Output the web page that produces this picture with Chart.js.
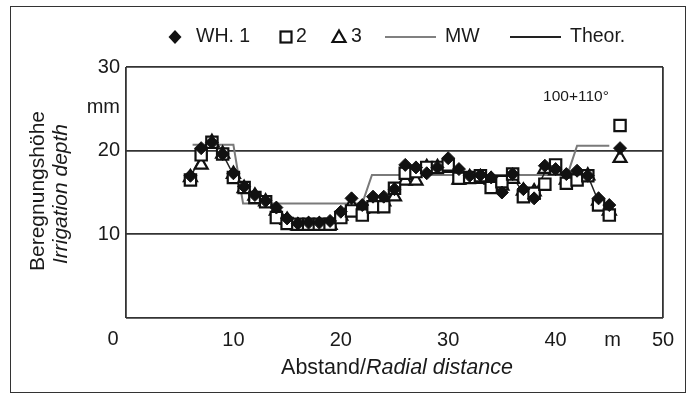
<!DOCTYPE html>
<html><head><meta charset="utf-8">
<script src="https://cdn.jsdelivr.net/npm/chart.js@4.4.0/dist/chart.umd.min.js"></script>
<style>html,body{margin:0;padding:0;background:#fff;overflow:hidden}#wrap{width:694px;height:394px;position:relative}</style>
</head><body><div id="wrap"><canvas id="c" width="694" height="394"></canvas></div>
<script>
// Distances (m); last one (46) is the separate "100+110°" measurement
const distances = [6,7,8,9,10,11,12,13,14,15,16,17,18,19,20,21,22,23,24,25,26,27,28,29,30,31,32,33,34,35,36,37,38,39,40,41,42,43,44,45,46];
const wh1 = [17.0,20.3,21.0,19.6,17.3,15.7,14.7,14.0,13.2,11.9,11.3,11.4,11.4,11.6,12.7,14.3,13.5,14.5,14.5,15.4,18.3,18.0,17.3,18.0,19.1,17.8,17.0,17.1,16.8,15.0,17.2,15.4,14.3,18.2,17.8,17.2,17.6,17.0,14.3,13.5,20.3];
const wh2 = [16.5,19.5,21.0,19.6,16.8,15.6,14.4,13.9,12.0,11.3,11.2,11.2,11.2,11.2,12.0,12.8,12.3,13.3,13.3,15.5,17.3,17.5,18.0,18.0,18.3,16.7,16.8,17.0,15.6,16.3,17.2,14.5,14.9,16.0,18.3,16.1,16.5,17.0,13.5,12.3,23.0];
const wh3 = [16.8,18.3,21.0,19.6,17.2,15.5,14.6,13.9,12.8,11.7,11.0,11.1,11.1,11.1,12.2,13.5,13.0,14.0,13.9,14.5,16.4,16.4,18.0,18.0,17.9,16.5,16.8,16.6,16.5,15.8,16.6,15.2,15.1,17.8,17.6,16.5,17.0,17.0,14.0,12.8,19.1];
// Line through the measured points (6..45 m)
const theorLine = [16.8,19.4,21.0,19.6,17.1,15.6,14.6,13.9,12.7,11.6,11.2,11.2,11.2,11.3,12.3,13.5,12.9,13.9,13.9,15.1,17.3,17.3,17.8,18.0,18.4,16.9,16.9,16.9,16.4,15.7,16.9,14.9,14.9,17.4,17.9,16.6,17.0,17.0,13.9,12.9];
// Stepped mean line
const mwX = [6.2,10.0,10.9,22.0,22.9,41.1,42.0,45.0];
const mwY = [20.7,20.7,13.7,13.7,17.1,17.1,20.6,20.6];
const yTicks = [0,10,20,30];
const xTicks = [0,10,20,30,40,50];

const FONT = '"Liberation Sans", Arial, sans-serif';
const toPts = (xs, ys) => ys.map((y,i)=>({x:xs[i], y:y}));

const decor = {
  id:'decor',
  afterDraw(chart){
    const ctx = chart.ctx;
    const xs = chart.scales.x, ys = chart.scales.y;
    ctx.save();
    ctx.strokeStyle = '#333'; ctx.lineWidth = 1;
    ctx.strokeRect(10.5, 6.5, 675, 386);
    ctx.fillStyle = '#1a1a1a';
    ctx.textBaseline = 'middle';
    ctx.font = '20px ' + FONT;
    ctx.textAlign = 'center';
    ctx.fillText('0', xs.left - 13, ys.bottom + 21);
    ctx.fillText('m', xs.getPixelForValue(45.3), ys.bottom + 22);
    ctx.textAlign = 'right';
    ctx.fillText('mm', ys.left + 120, ys.getPixelForValue(25.2));
    ctx.textAlign = 'center';
    ctx.font = '15.5px ' + FONT;
    ctx.fillText('100+110°', xs.getPixelForValue(41.9), ys.getPixelForValue(26.4));
    // x title
    const t1 = 'Abstand/', t2 = 'Radial distance';
    ctx.font = '21.5px ' + FONT; const w1 = ctx.measureText(t1).width;
    ctx.font = 'italic 21.5px ' + FONT; const w2 = ctx.measureText(t2).width;
    const cx = 397, sx = cx - (w1+w2)/2, ty = 368;
    ctx.textAlign = 'left';
    ctx.font = '21.5px ' + FONT; ctx.fillText(t1, sx, ty);
    ctx.font = 'italic 21.5px ' + FONT; ctx.fillText(t2, sx + w1, ty);
    // y title
    ctx.save();
    ctx.translate(38, 191); ctx.rotate(-Math.PI/2);
    ctx.textAlign = 'center';
    ctx.font = '21px ' + FONT; ctx.fillText('Beregnungshöhe', 0, 0);
    ctx.restore();
    ctx.save();
    ctx.translate(61, 194); ctx.rotate(-Math.PI/2);
    ctx.textAlign = 'center';
    ctx.font = 'italic 21px ' + FONT; ctx.fillText('Irrigation depth', 0, 0);
    ctx.restore();
    // legend
    const ly = 37;
    ctx.font = '19.5px ' + FONT; ctx.textAlign = 'left';
    ctx.fillStyle = '#111'; ctx.strokeStyle = '#111';
    ctx.beginPath(); ctx.moveTo(175, ly-7); ctx.lineTo(181.5, ly); ctx.lineTo(175, ly+7); ctx.lineTo(168.5, ly); ctx.closePath(); ctx.fill();
    ctx.fillStyle = '#1a1a1a'; ctx.fillText('WH. 1', 196, ly);
    ctx.lineWidth = 2.2; ctx.strokeRect(280.5, ly-5.5, 11, 11);
    ctx.fillText('2', 296, ly);
    ctx.beginPath(); ctx.moveTo(339, ly-6.5); ctx.lineTo(345.5, ly+5); ctx.lineTo(332.5, ly+5); ctx.closePath(); ctx.stroke();
    ctx.fillText('3', 351, ly);
    ctx.lineWidth = 1.8; ctx.strokeStyle = '#808080';
    ctx.beginPath(); ctx.moveTo(385, ly); ctx.lineTo(436, ly); ctx.stroke();
    ctx.fillText('MW', 445, ly);
    ctx.strokeStyle = '#222';
    ctx.beginPath(); ctx.moveTo(510, ly); ctx.lineTo(561, ly); ctx.stroke();
    ctx.fillText('Theor.', 570, ly);
    ctx.restore();
  }
};

new Chart(document.getElementById('c'), {
  type: 'scatter',
  data: {
    datasets: [
      { label:'WH. 1', data: toPts(distances, wh1), pointStyle:'rectRot', pointRadius:6.5, backgroundColor:'#111', borderColor:'#111', borderWidth:1 },
      { label:'2', data: toPts(distances, wh2), pointStyle:'rect', pointRadius:8, backgroundColor:'#fff', borderColor:'#111', borderWidth:2.2 },
      { label:'3', data: toPts(distances, wh3), pointStyle:'triangle', pointRadius:7.5, backgroundColor:'#fff', borderColor:'#111', borderWidth:2.2 },
      { label:'Theor.', data: toPts(distances, theorLine), showLine:true, pointRadius:0, borderColor:'#222', borderWidth:1.5, fill:false },
      { label:'MW', data: toPts(mwX, mwY), showLine:true, pointRadius:0, borderColor:'#7a7a7a', borderWidth:2, fill:false }
    ]
  },
  options: {
    responsive:false, animation:false, devicePixelRatio:1,
    layout:{ padding:{ left:0, top:67, right:31, bottom:0 } },
    plugins:{ legend:{display:false}, tooltip:{enabled:false} },
    scales:{
      x:{ type:'linear', min:0, max:50,
        afterBuildTicks(s){ s.ticks = xTicks.map(v=>({value:v})); },
        afterFit(s){ s.height = 76; },
        ticks:{ padding:10, color:'#1a1a1a', font:{family:FONT, size:20}, callback:v=> v===0 ? '' : String(v), maxRotation:0, autoSkip:false },
        grid:{ drawTicks:false, lineWidth:1.8, color:c=> (c.tick && (c.tick.value===0 || c.tick.value===50)) ? '#333' : 'rgba(0,0,0,0)' },
        border:{ display:false }
      },
      y:{ type:'linear', min:0, max:30,
        afterBuildTicks(s){ s.ticks = yTicks.map(v=>({value:v})); },
        afterFit(s){ s.width = 126; },
        ticks:{ padding:6, color:'#1a1a1a', font:{family:FONT, size:20}, callback:v=> v===0 ? '' : String(v) },
        grid:{ drawTicks:false, lineWidth:1.8, color:'#333' },
        border:{ display:false }
      }
    }
  },
  plugins:[decor]
});
</script>
</body></html>
